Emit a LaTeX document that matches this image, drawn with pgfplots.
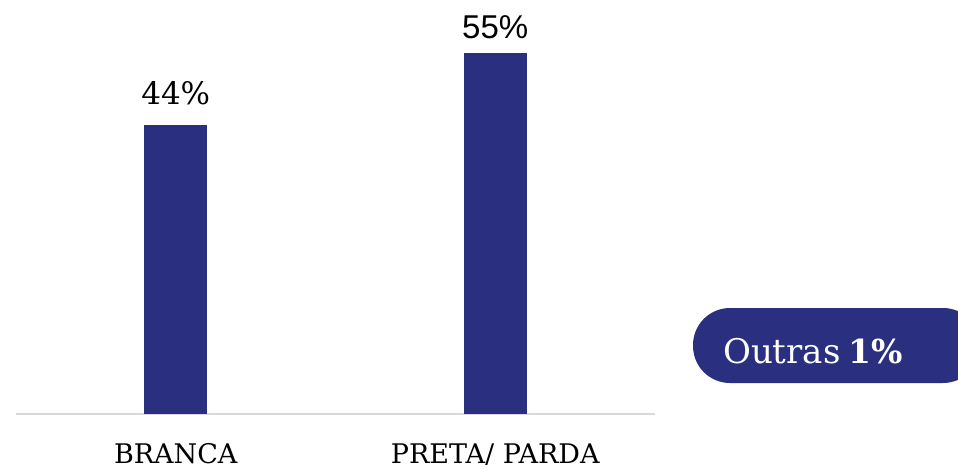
\documentclass[border=0pt]{standalone}
\usepackage{pgfplots}
\pgfplotsset{compat=1.18}
\usepackage{fontspec}
\setmainfont{DejaVu Serif}
\newfontfamily\sansf{Liberation Sans}
\definecolor{navy}{HTML}{2B2F80}
\definecolor{basegray}{HTML}{D9D9D9}
\begin{document}
\begin{tikzpicture}[x=1pt,y=1pt]
\useasboundingbox (0,0) rectangle (958,464);
\begin{axis}[
  at={(16pt,50pt)}, anchor=south west,
  scale only axis, width=639pt, height=394pt,
  xmin=-0.5, xmax=1.5, ymin=0, ymax=60,
  axis x line*=bottom, axis y line=none,
  x axis line style={draw=basegray, line width=1.5pt, -},
  xtick={0,1}, xticklabels={BRANCA,PRETA/ PARDA},
  xtick style={draw=none},
  xticklabel style={anchor=base, yshift=-45pt, font=\fontsize{27}{30}\selectfont, text=black, inner sep=0pt},
  ytick=\empty,
  ybar, bar width=63pt,
  clip=false,
]
\addplot[fill=navy, draw=none, bar shift=0pt,
  nodes near coords={44\%},
  every node near coord/.append style={anchor=base, yshift=21pt, inner sep=0pt, font=\fontsize{31}{34}\selectfont, text=black}]
  coordinates {(0,44)};
\addplot[fill=navy, draw=none, bar shift=0pt,
  nodes near coords={55\%},
  every node near coord/.append style={anchor=base, yshift=14pt, inner sep=0pt, font=\sansf\fontsize{33}{36}\selectfont, text=black}]
  coordinates {(1,55)};
\end{axis}
\fill[navy, rounded corners=37pt] (693,81) rectangle (980,156);
\node[anchor=base west, inner sep=0pt, text=white, font=\fontsize{34}{36}\selectfont] at (723,101) {Outras};
\node[anchor=base west, inner sep=0pt, text=white, font=\bfseries\fontsize{33}{36}\selectfont] at (848,101) {1\%};
\end{tikzpicture}
\end{document}
